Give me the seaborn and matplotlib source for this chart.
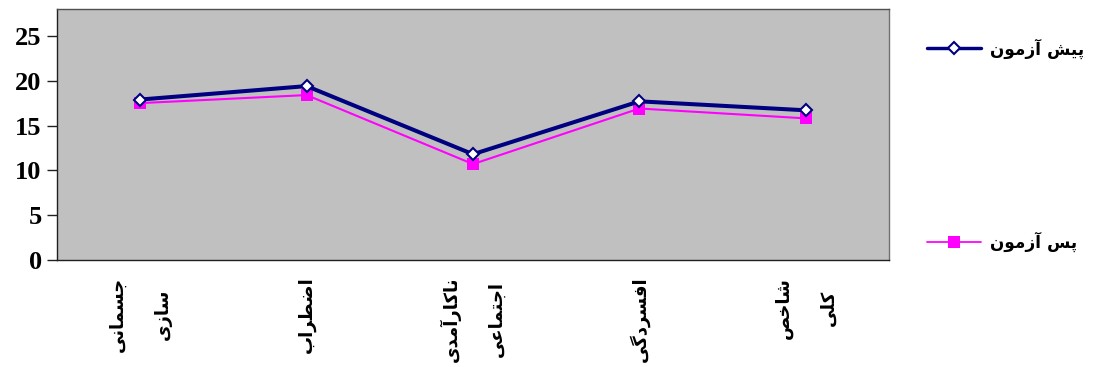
import matplotlib
matplotlib.use("Agg")
import matplotlib.pyplot as plt
import seaborn as sns
import pandas as pd

# Persian labels and scores
categories = ["جسمانی\nسازی", "اضطراب", "ناکارآمدی\nاجتماعی", "افسردگی", "شاخص\nکلی"]
series_names = ["پیش آزمون", "پس آزمون"]
pre_test = [17.9, 19.4, 11.8, 17.7, 16.7]
post_test = [17.5, 18.4, 10.7, 16.9, 15.8]
y_ticks = [0, 5, 10, 15, 20, 25]

# --- minimal Arabic-script shaping (contextual forms + right-to-left order) ---
FORMS = {
    "ا": ("\uFE8D", "\uFE8E", None, None),
    "آ": ("\uFE81", "\uFE82", None, None),
    "د": ("\uFEA9", "\uFEAA", None, None),
    "ر": ("\uFEAD", "\uFEAE", None, None),
    "ز": ("\uFEAF", "\uFEB0", None, None),
    "و": ("\uFEED", "\uFEEE", None, None),
    "ب": ("\uFE8F", "\uFE90", "\uFE91", "\uFE92"),
    "پ": ("\uFB56", "\uFB57", "\uFB58", "\uFB59"),
    "ت": ("\uFE95", "\uFE96", "\uFE97", "\uFE98"),
    "ج": ("\uFE9D", "\uFE9E", "\uFE9F", "\uFEA0"),
    "خ": ("\uFEA5", "\uFEA6", "\uFEA7", "\uFEA8"),
    "س": ("\uFEB1", "\uFEB2", "\uFEB3", "\uFEB4"),
    "ش": ("\uFEB5", "\uFEB6", "\uFEB7", "\uFEB8"),
    "ص": ("\uFEB9", "\uFEBA", "\uFEBB", "\uFEBC"),
    "ض": ("\uFEBD", "\uFEBE", "\uFEBF", "\uFEC0"),
    "ط": ("\uFEC1", "\uFEC2", "\uFEC3", "\uFEC4"),
    "ع": ("\uFEC9", "\uFECA", "\uFECB", "\uFECC"),
    "ف": ("\uFED1", "\uFED2", "\uFED3", "\uFED4"),
    "ک": ("\uFB8E", "\uFB8F", "\uFB90", "\uFB91"),
    "گ": ("\uFB92", "\uFB93", "\uFB94", "\uFB95"),
    "ل": ("\uFEDD", "\uFEDE", "\uFEDF", "\uFEE0"),
    "م": ("\uFEE1", "\uFEE2", "\uFEE3", "\uFEE4"),
    "ن": ("\uFEE5", "\uFEE6", "\uFEE7", "\uFEE8"),
    "ی": ("\uFBFC", "\uFBFD", "\uFBFE", "\uFBFF"),
}


def _joins_forward(ch):
    return ch in FORMS and FORMS[ch][2] is not None


def shape_word(word):
    out = []
    for i, ch in enumerate(word):
        if ch not in FORMS:
            out.append(ch)
            continue
        prev_links = i > 0 and _joins_forward(word[i - 1])
        next_links = (i + 1 < len(word) and word[i + 1] in FORMS
                      and _joins_forward(ch))
        iso, fin, ini, med = FORMS[ch]
        if prev_links and next_links:
            out.append(med)
        elif prev_links:
            out.append(fin)
        elif next_links:
            out.append(ini)
        else:
            out.append(iso)
    return "".join(out)


def rtl(text):
    lines = []
    for line in text.split("\n"):
        words = [shape_word(w) for w in line.split(" ")]
        lines.append(" ".join(words)[::-1])
    return "\n".join(lines)


df = pd.DataFrame({
    "category": list(range(len(categories))) * 2,
    "score": pre_test + post_test,
    "series": [series_names[0]] * len(categories) + [series_names[1]] * len(categories),
})

sns.set_style("white")
plt.rcParams["font.family"] = ["DejaVu Sans"]
plt.rcParams["text.color"] = "black"
plt.rcParams["xtick.color"] = "black"
plt.rcParams["ytick.color"] = "black"

fig = plt.figure(figsize=(10.93, 3.67), dpi=100)
ax = fig.add_axes([57 / 1093, 1 - 260 / 367, (889 - 57) / 1093, (260 - 9) / 367])
ax.set_facecolor("#C0C0C0")

styles = {
    series_names[0]: dict(color="#000080", lw=2.9, marker="D", ms=6.5,
                          mfc="white", mec="#000080", mew=1.5, zorder=3),
    series_names[1]: dict(color="#FF00FF", lw=1.5, marker="s", ms=8,
                          mfc="#FF00FF", mec="#FF00FF", mew=0, zorder=2),
}
for name in series_names:
    sub = df[df["series"] == name]
    st = styles[name]
    sns.lineplot(data=sub, x="category", y="score", ax=ax, color=st["color"],
                 linewidth=st["lw"], marker=st["marker"], markersize=st["ms"],
                 markerfacecolor=st["mfc"], markeredgecolor=st["mec"],
                 markeredgewidth=st["mew"], zorder=st["zorder"],
                 label=rtl(name), legend=False)

ax.set_xlim(-0.5, len(categories) - 0.5)
ax.set_ylim(0, 28)
ax.set_yticks(y_ticks)
ax.set_yticklabels([str(t) for t in y_ticks], fontfamily="Liberation Serif",
                   fontweight="bold", fontsize=19, color="black")
ax.set_xticks(range(len(categories)))
ax.set_xticklabels([rtl(c) for c in categories], rotation=90, fontsize=13,
                   fontweight="bold", va="top", ha="center", linespacing=2.9,
                   color="black")
ax.tick_params(axis="y", direction="out", length=7, width=1, color="#202020",
               left=True, pad=4)
ax.tick_params(axis="x", length=0, pad=12)
ax.set_xlabel("")
ax.set_ylabel("")

for side in ["top", "right", "left", "bottom"]:
    ax.spines[side].set_visible(True)
    ax.spines[side].set_linewidth(1.0)
ax.spines["top"].set_color("#505050")
ax.spines["right"].set_color("#707070")
ax.spines["left"].set_color("#202020")
ax.spines["bottom"].set_color("#202020")

handles, labels = ax.get_legend_handles_labels()
leg = fig.legend(handles, labels, loc="upper left",
                 bbox_to_anchor=(912 / 1093, 1 - 23 / 367),
                 frameon=False, handlelength=3.2, handletextpad=0.5,
                 labelspacing=10.2, prop={"weight": "bold", "size": 12.2})
for line in leg.get_lines():
    line.set_linewidth(line.get_linewidth() * 0.85)

fig.savefig("out.png", dpi=100, facecolor="white")
